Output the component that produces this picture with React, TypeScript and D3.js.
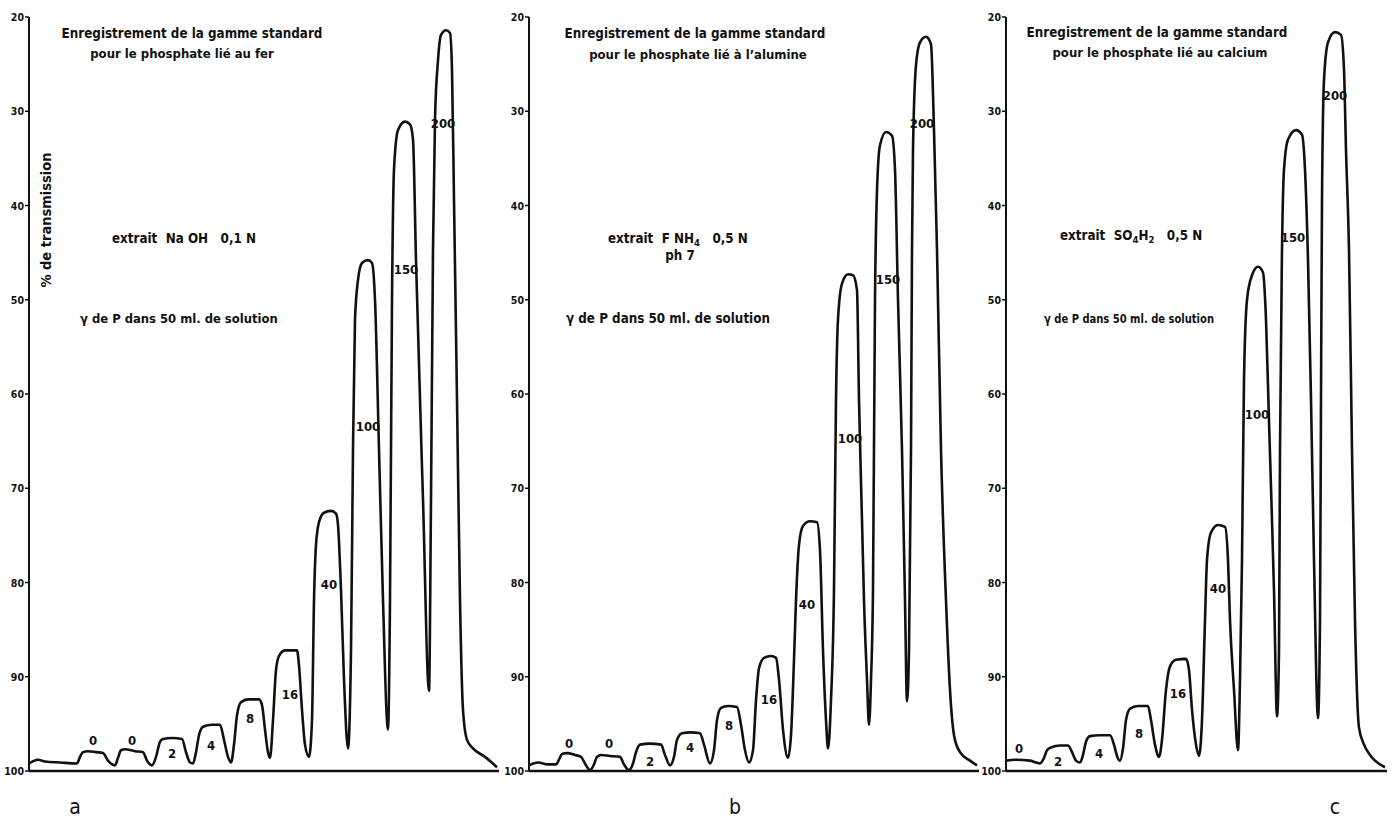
import React from 'react'
import * as d3 from 'd3'

// % de transmission ticks
const yTicks = [20, 30, 40, 50, 60, 70, 80, 90, 100]
const peakNames = ['0', '0', '2', '4', '8', '16', '40', '100', '150', '200']
const peakNamesC = ['0', '2', '4', '8', '16', '40', '100', '150', '200']

// trace a : phosphate lié au fer (x = chart length, T = % transmission)
const aX = [0, 2.25, 4, 7.75, 12, 12.75, 13.5, 14.75, 16.75, 18.5, 19.75, 21.5, 22.25, 23, 24, 26.5, 28.5, 29.5, 30.75, 31.75, 32.75, 33.5, 35.75, 38.25, 39.25, 40.25, 41, 41.75, 42.5, 43.5, 45.75, 47.75, 48.75, 49.75, 50.5, 51.25, 52, 53, 54.75, 57.5, 58.25, 59, 59.75, 60.25, 61, 61.75, 62.5, 64, 67, 67.5, 68.25, 69, 70, 70.75, 71.25, 71.75, 72.5, 73.75, 75.5, 76.75, 77.25, 78, 78.75, 79.75, 80.5, 81, 81.5, 82.25, 83.25, 84.75, 85.75, 86.5, 87.5, 88.5, 89.75, 90.25, 90.75, 91.25, 92.25, 94, 95.25, 96, 96.75, 98.5, 100, 100.5, 101, 101.5, 102.25, 103, 104.25, 105.25, 105.75, 106.25, 107, 107.75, 108.5, 109.5, 111, 114, 117]
const aT = [99.2, 98.8, 99.0, 99.1, 99.2, 98.5, 98.0, 97.9, 98.0, 98.1, 98.9, 99.4, 98.6, 97.8, 97.7, 97.9, 98.0, 98.9, 99.4, 98.5, 96.9, 96.6, 96.5, 96.6, 98.0, 99.1, 99.2, 98.0, 96.2, 95.3, 95.1, 95.1, 96.7, 98.5, 99.1, 97.2, 94.1, 92.7, 92.4, 92.4, 93.0, 95.6, 98.0, 98.6, 94.6, 89.3, 87.8, 87.2, 87.2, 88.8, 93.5, 97.2, 98.5, 94.6, 81.9, 76.0, 73.6, 72.6, 72.4, 72.7, 73.9, 80.8, 90.3, 97.6, 87.2, 65.9, 52.1, 47.9, 46.1, 45.8, 46.1, 50.0, 65.9, 81.9, 95.6, 81.9, 50.0, 36.2, 32.0, 31.1, 31.4, 33.0, 45.8, 71.2, 91.5, 71.2, 44.7, 30.9, 24.6, 21.9, 21.4, 21.7, 25.6, 39.4, 60.6, 81.9, 93.5, 96.7, 97.6, 98.5, 99.6]
const aLabelX = [16, 25.75, 35.75, 45.5, 55.25, 65.25, 75, 84.75, 94.25, 103.5]
const aLabelT = [96.7, 96.7, 98.1, 97.2, 94.4, 91.8, 80.2, 63.4, 46.7, 31.2]

// trace b : phosphate lié à l'alumine
const bX = [0, 2.25, 4.75, 6.75, 7.5, 8.25, 9.5, 11.5, 13, 14, 15.25, 16.25, 17, 18, 20.25, 22.75, 23.75, 25, 26, 26.75, 27.75, 30.25, 33, 34, 35.25, 36.25, 37, 38.25, 40.5, 42.75, 43.75, 45.25, 46.25, 47, 48, 49.75, 52, 53, 54, 55, 56, 56.75, 57.5, 58.75, 60.5, 61.75, 62.5, 63.5, 64.75, 65.5, 66.25, 66.75, 67.5, 68.5, 70.25, 72, 72.75, 73.5, 74.25, 74.75, 75.5, 76.25, 76.75, 77.25, 78.25, 79.75, 81, 82, 82.5, 83.25, 83.75, 84.5, 85, 85.5, 86, 86.5, 87, 87.75, 89.25, 90.75, 91.5, 92.25, 93.25, 94, 94.5, 95, 95.5, 95.75, 96, 96.75, 97.75, 99.25, 100.5, 101.25, 102, 103, 104.25, 105.25, 106.25, 107.75, 110.25, 112]
const bT = [99.4, 99.1, 99.3, 99.3, 98.8, 98.2, 98.1, 98.3, 98.5, 99.2, 99.9, 99.3, 98.5, 98.3, 98.4, 98.5, 99.3, 99.9, 99.2, 98.0, 97.2, 97.1, 97.2, 98.3, 99.4, 98.5, 96.7, 96.0, 95.9, 96.0, 97.2, 99.2, 97.8, 94.6, 93.3, 93.1, 93.2, 95.1, 97.8, 99.1, 97.8, 92.5, 89.1, 88.0, 87.8, 88.0, 90.3, 95.6, 98.6, 96.2, 88.2, 81.9, 76.0, 74.0, 73.5, 73.6, 76.6, 87.2, 94.6, 97.6, 92.5, 80.7, 60.6, 52.1, 48.3, 47.3, 47.4, 49.0, 60.6, 73.4, 81.9, 90.3, 95.1, 90.3, 80.7, 50.0, 38.4, 33.6, 32.2, 32.6, 36.2, 50.0, 65.9, 81.9, 92.6, 87.2, 65.9, 44.7, 34.1, 25.1, 22.7, 22.1, 22.9, 32.0, 44.7, 65.9, 81.9, 91.4, 96.2, 98.0, 98.9, 99.4]
const bLabelX = [10, 20, 30.25, 40.25, 50, 60, 69.5, 80.25, 89.75, 98.25]
const bLabelT = [97.0, 97.0, 98.9, 97.5, 95.1, 92.4, 82.3, 64.7, 47.8, 31.2]

// trace c : phosphate lié au calcium
const cX = [0, 2.25, 6, 7.5, 8.5, 9.5, 10.25, 11.25, 13.5, 15.5, 16.5, 17.5, 18.5, 19.25, 20, 21, 23.5, 26, 27, 27.75, 28.5, 29.25, 30, 31, 33, 35.5, 36.25, 37.25, 38.25, 39, 40, 41, 42.5, 45, 45.75, 46.5, 47.5, 48.25, 49, 49.75, 50.25, 51.25, 53, 54.75, 55.5, 56, 57, 58, 58.5, 59, 59.5, 60.25, 61.5, 63, 64.25, 65, 65.75, 66.5, 67, 67.75, 68.25, 68.5, 69, 69.5, 70.5, 72.5, 74, 74.75, 75.5, 76.25, 77, 78, 78.5, 78.75, 79, 79.5, 80.5, 82.25, 83.75, 84.5, 85, 85.75, 86.5, 87.25, 88.25, 89.5, 91, 94.75]
const cT = [98.9, 98.8, 98.9, 99.1, 99.2, 98.6, 97.8, 97.5, 97.3, 97.3, 98.0, 98.9, 99.1, 98.3, 96.9, 96.3, 96.2, 96.2, 97.2, 98.4, 98.9, 97.6, 94.6, 93.4, 93.1, 93.1, 94.6, 97.2, 98.5, 96.7, 91.4, 88.9, 88.2, 88.1, 89.3, 93.5, 97.2, 98.4, 94.6, 84.0, 77.6, 74.7, 73.9, 74.1, 77.6, 84.0, 91.4, 97.8, 90.3, 77.6, 58.5, 50.0, 47.4, 46.5, 47.1, 52.1, 62.9, 73.4, 80.9, 94.2, 87.2, 65.9, 44.7, 36.2, 33.0, 32.0, 32.5, 36.2, 45.8, 60.6, 77.6, 94.4, 84.0, 60.6, 39.4, 26.7, 22.7, 21.6, 21.9, 25.6, 34.1, 44.7, 65.9, 84.0, 95.4, 97.2, 98.3, 99.6]
const cLabelX = [3.25, 13, 23.25, 33.25, 43, 53, 62.75, 71.75, 82.25]
const cLabelT = [97.6, 98.9, 98.1, 96.0, 91.7, 80.6, 62.1, 43.3, 28.3]

const FONT = '"DejaVu Sans Condensed", "DejaVu Sans", sans-serif'

const y = d3.scaleLinear().domain([20, 100]).range([17, 771])

function Panel({ left, xs, ts, names, lx, lt, letter, letterX, showTitle, children }) {
  const xMax = xs[xs.length - 1]
  const x = d3.scaleLinear().domain([0, xMax]).range([left, left + xMax * 4])
  const line = d3.line<number>()
    .x((d, i) => x(xs[i]))
    .y(d => y(d))
    .curve(d3.curveMonotoneX)

  return (
    <g>
      {/* axis */}
      <line x1={left} x2={left} y1={y(20)} y2={y(100)} stroke="#111" strokeWidth={2} />
      <line x1={left} x2={x(xMax) + 2} y1={y(100)} y2={y(100)} stroke="#111" strokeWidth={2.5} />
      {yTicks.map(t => (
        <g key={t}>
          <line x1={left - 4} x2={left} y1={y(t)} y2={y(t)} stroke="#111" strokeWidth={1.5} />
          <text x={left - 5} y={y(t) + 4} textAnchor="end" fontSize={10.5} fontWeight="bold"
            fontFamily={FONT} fill="#111">{t}</text>
        </g>
      ))}
      {showTitle && (
        <text transform={`translate(51,220) rotate(-90)`} textAnchor="middle" fontSize={14.5}
          fontWeight="bold" fontFamily={FONT} fill="#111">% de transmission</text>
      )}
      <path d={line(ts) || ''} fill="none" stroke="#111" strokeWidth={2.6} strokeLinejoin="round" />
      {names.map((n, i) => (
        <text key={i} x={x(lx[i])} y={y(lt[i]) + 5} textAnchor="middle" fontSize={13}
          fontWeight="bold" fontFamily={FONT} fill="#111">{n}</text>
      ))}
      {children}
      <text x={letterX} y={814} textAnchor="middle" fontSize={21} fontFamily={FONT} fill="#111">{letter}</text>
    </g>
  )
}

const txt = { fontFamily: FONT, fontSize: 13.3, fontWeight: 'bold' as const, fill: '#111' }

export default function App() {
  return (
    <svg width={1392} height={820} style={{ position: 'absolute', left: 0, top: 0, background: '#fff' }}>
      <rect width={1392} height={820} fill="#fff" />
      <Panel left={29} xs={aX} ts={aT} names={peakNames} lx={aLabelX} lt={aLabelT} letter="a" letterX={75} showTitle>
        <text {...txt} x={192} y={38} textAnchor="middle">Enregistrement de la gamme standard</text>
        <text {...txt} x={182} y={58} textAnchor="middle" fontSize={13}>pour le phosphate lié au fer</text>
        <text {...txt} x={112} y={243} xmlSpace="preserve">extrait  Na OH   0,1 N</text>
        <text {...txt} x={80} y={323} fontSize={12.9}>γ de P dans 50 ml. de solution</text>
      </Panel>
      <Panel left={529} xs={bX} ts={bT} names={peakNames} lx={bLabelX} lt={bLabelT} letter="b" letterX={735}>
        <text {...txt} x={695} y={38} textAnchor="middle">Enregistrement de la gamme standard</text>
        <text {...txt} x={698} y={59} textAnchor="middle" fontSize={13}>pour le phosphate lié à l’alumine</text>
        <text {...txt} x={608} y={243} xmlSpace="preserve">extrait  F NH<tspan fontSize={9.5} dy={3}>4</tspan><tspan dy={-3}>   0,5 N</tspan></text>
        <text {...txt} x={680} y={260} textAnchor="middle">ph 7</text>
        <text {...txt} x={566} y={323}>γ de P dans 50 ml. de solution</text>
      </Panel>
      <Panel left={1006} xs={cX} ts={cT} names={peakNamesC} lx={cLabelX} lt={cLabelT} letter="c" letterX={1335}>
        <text {...txt} x={1157} y={37} textAnchor="middle">Enregistrement de la gamme standard</text>
        <text {...txt} x={1160} y={57} textAnchor="middle" fontSize={13}>pour le phosphate lié au calcium</text>
        <text {...txt} x={1060} y={240} xmlSpace="preserve">extrait  SO<tspan fontSize={9.5} dy={3}>4</tspan><tspan dy={-3}>H</tspan><tspan fontSize={9.5} dy={3}>2</tspan><tspan dy={-3}>   0,5 N</tspan></text>
        <text {...txt} x={1044} y={323} fontSize={12.6} textLength={170} lengthAdjust="spacingAndGlyphs">γ de P dans 50 ml. de solution</text>
      </Panel>
    </svg>
  )
}
